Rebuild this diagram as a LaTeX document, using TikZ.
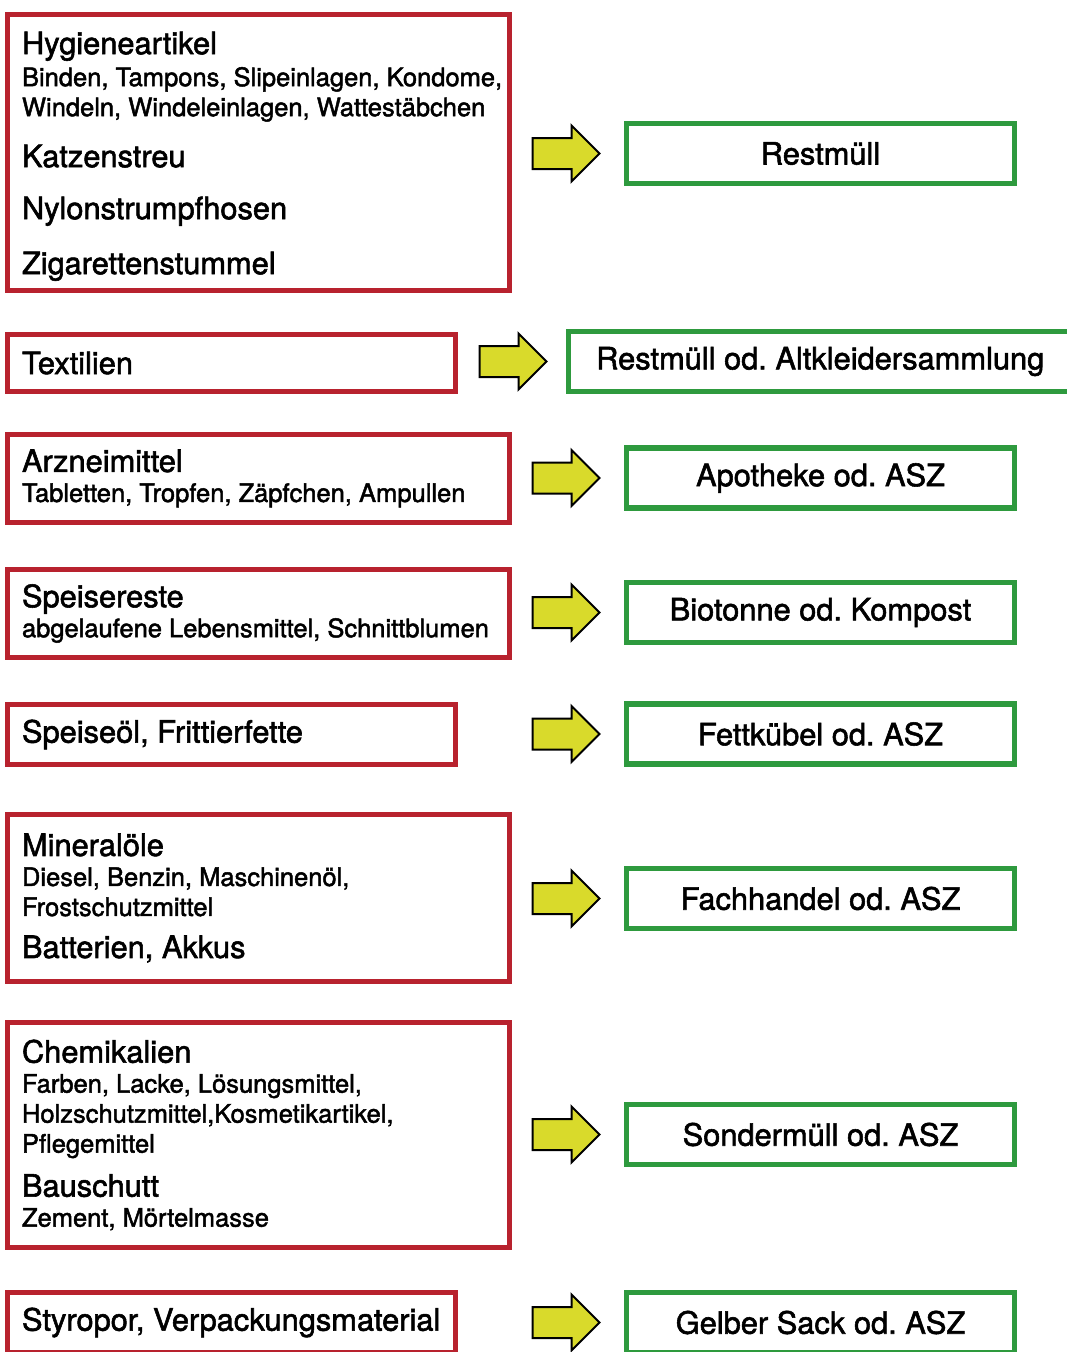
\documentclass[tikz,border=0pt]{standalone}
\usepackage{fontspec}
\setmainfont{TeX Gyre Heros}[FakeBold=1.8]
\usetikzlibrary{shapes.arrows,positioning}

\definecolor{randrot}{HTML}{B8222E}
\definecolor{randgruen}{HTML}{2E9A3E}
\definecolor{pfeilgelb}{HTML}{D9DA2B}

\newcommand{\klein}[1]{\mbox{\fontsize{25.5}{30}\selectfont\spaceskip=0pt\xspaceskip=0pt #1}}

\tikzset{
  kiste/.style={draw=randrot, line width=5pt, outer sep=0pt, anchor=north west,
    inner xsep=14.5pt, inner ysep=0pt, text width=473pt, align=flush left,
    font=\fontsize{30.8}{30}\selectfont\frenchspacing},
  schmal/.style={kiste, text width=418.5pt},
  ziel/.style={draw=randgruen, line width=5.5pt, outer sep=0pt, inner sep=0pt,
    minimum width=388pt, minimum height=60pt,
    font=\fontsize{30.8}{30}\selectfont\frenchspacing},
  pfeil/.style={single arrow, draw=black, line width=2pt, fill=pfeilgelb,
    outer sep=0pt, inner xsep=0pt, inner ysep=14.5pt,
    single arrow head extend=12.5pt, minimum height=67pt}
}

\begin{document}
\begin{tikzpicture}[x=1pt,y=-1pt]
  \fill[white] (0,0) rectangle (1066,1352);
  \useasboundingbox (0,0) rectangle (1066,1352);

  % Hygieneartikel -> Restmuell
  \node[kiste, minimum height=276pt] (hyg) at (7.5,14.5)
    {\rule{0pt}{30pt}Hygieneartikel\\[2pt]
     \klein{Binden, Tampons, Slipeinlagen, Kondome,}\\
     \klein{Windeln, Windeleinlagen, Wattestäbchen}\\[21pt]
     Katzenstreu\\[22pt]
     Nylonstrumpfhosen\\[25pt]
     Zigarettenstummel};
  \node[ziel] (restm) at (820.5,153.5) {Restmüll};
  \node[pfeil, left=27pt of restm.west, anchor=tip] (p1) {};

  % Textilien
  \node[schmal, minimum height=57pt] (tex) at (7.5,334.5) {Textilien};
  \node[ziel, minimum width=503.5pt] (altk) at (820.25,361.5) {Restmüll od. Altkleidersammlung};
  \node[pfeil, left=22pt of altk.west, anchor=tip] (p2) {};

  % Arzneimittel
  \node[kiste, minimum height=88pt] (arz) at (7.5,434.5)
    {Arzneimittel\\ \klein{Tabletten, Tropfen, Zäpfchen, Ampullen}};
  \node[ziel] (apo) at (820.5,478) {Apotheke od. ASZ};
  \node[pfeil, left=27pt of apo.west, anchor=tip] (p3) {};

  % Speisereste
  \node[kiste, minimum height=88pt] (spr) at (7.5,569.5)
    {Speisereste\\ \klein{abgelaufene Lebensmittel, Schnittblumen}};
  \node[ziel] (bio) at (820.5,612.5) {Biotonne od. Kompost};
  \node[pfeil, left=27pt of bio.west, anchor=tip] (p4) {};

  % Speiseoel
  \node[schmal, minimum height=60pt] (oel) at (7.5,704.5) {Speiseöl, Frittierfette};
  \node[ziel] (fett) at (820.5,734) {Fettkübel od. ASZ};
  \node[pfeil, left=27pt of fett.west, anchor=tip] (p5) {};

  % Mineraloele, Batterien
  \node[kiste, minimum height=167pt] (min) at (7.5,814.5)
    {Mineralöle\\
     \klein{Diesel, Benzin, Maschinenöl,}\\
     \klein{Frostschutzmittel}\\[12pt]
     Batterien, Akkus};
  \node[ziel] (fach) at (820.5,898.5) {Fachhandel od. ASZ};
  \node[pfeil, left=27pt of fach.west, anchor=tip] (p6) {};

  % Chemikalien, Bauschutt
  \node[kiste, minimum height=225pt] (che) at (7.5,1022.5)
    {Chemikalien\\
     \klein{Farben, Lacke, Lösungsmittel,}\\
     \klein{Holzschutzmittel,Kosmetikartikel,}\\
     \klein{Pflegemittel}\\[14pt]
     Bauschutt\\
     \klein{Zement, Mörtelmasse}};
  \node[ziel] (sond) at (820.5,1134.5) {Sondermüll od. ASZ};
  \node[pfeil, left=27pt of sond.west, anchor=tip] (p7) {};

  % Styropor
  \node[schmal, minimum height=60pt] (sty) at (7.5,1292.5) {Styropor, Verpackungsmaterial};
  \node[ziel] (gelb) at (820.5,1322.5) {Gelber Sack od. ASZ};
  \node[pfeil, left=27pt of gelb.west, anchor=tip] (p8) {};
\end{tikzpicture}
\end{document}
